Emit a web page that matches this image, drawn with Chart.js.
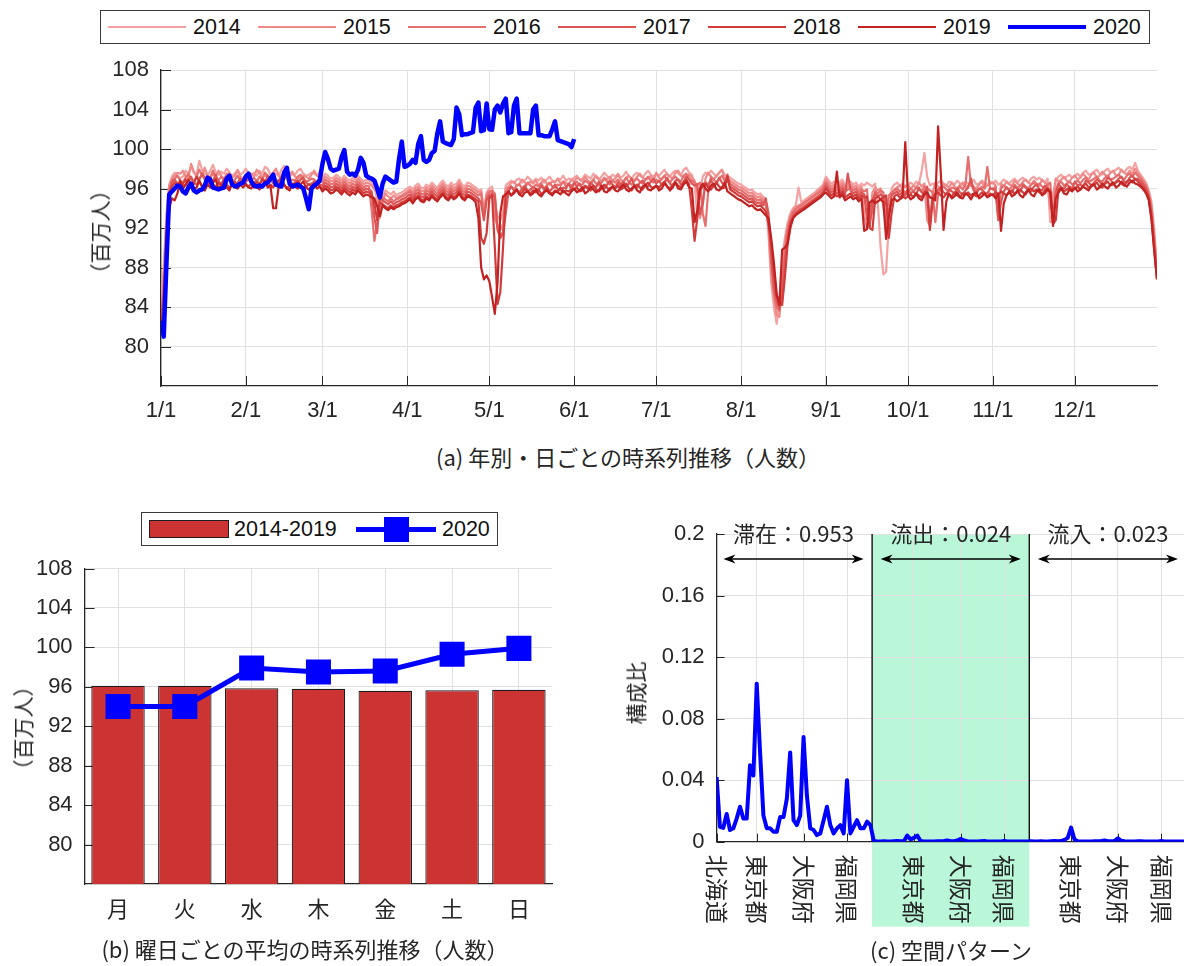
<!DOCTYPE html>
<html lang="ja">
<head>
<meta charset="utf-8">
<title>人数の時系列推移と空間パターン</title>
<script src="https://cdn.jsdelivr.net/npm/chart.js@4.4.1/dist/chart.umd.min.js"></script>
<style>
  html, body { margin: 0; padding: 0; background: #fff; }
  #fig { position: relative; width: 1184px; height: 966px; overflow: hidden; background: #fff; }
  #fig canvas { position: absolute; }
  .cap { position: absolute; white-space: nowrap; color: #262626; line-height: 30px; height: 30px;
         width: 600px; margin-left: -300px; text-align: center; font-size: 22px; }
  .cjk { font-family: "Noto Sans CJK JP", "Noto Sans", sans-serif; }
  .lat { font-family: "Liberation Sans", Arial, sans-serif; }
  .legend { position: absolute; border: 1px solid #3a3a3a; background: #fff; box-sizing: border-box; }
  .legend div { position: absolute; }
  .ytitle { position: absolute; white-space: nowrap; transform: translate(-50%, -50%) rotate(-90deg);
            font-size: 21px; line-height: 26px; color: #262626; }
</style>
</head>
<body>
<div id="fig">
  <canvas id="chartA" width="1184" height="440" style="left:0;top:0"></canvas>
  <canvas id="chartB" width="570" height="486" style="left:0;top:480px"></canvas>
  <canvas id="chartC" width="630" height="486" style="left:560px;top:480px"></canvas>
  <div id="legendA" class="legend" style="left:100px;top:10px;width:1050px;height:34px"></div>
  <div id="legendB" class="legend" style="left:141px;top:512px;width:357px;height:34px"></div>
  <div class="ytitle cjk" style="left:99px;top:232px">（百万人）</div>
  <div class="ytitle cjk" style="left:22px;top:728px">（百万人）</div>
  <div class="ytitle cjk" style="left:635px;top:693px">構成比</div>
  <div class="cap cjk" style="left:628px;top:441px">(a) 年別・日ごとの時系列推移（人数）</div>
  <div class="cap cjk" style="left:305px;top:933px">(b) 曜日ごとの平均の時系列推移（人数）</div>
  <div class="cap cjk" style="left:951px;top:934px">(c) 空間パターン</div>
</div>
<script>
// ===== (a) daily population, one array per year (百万人), Jan 1 .. Dec 31 =====
const monthStarts = [0, 31, 59, 90, 120, 151, 181, 212, 243, 273, 304, 334];
const monthLabels = ['1/1', '2/1', '3/1', '4/1', '5/1', '6/1', '7/1', '8/1', '9/1', '10/1', '11/1', '12/1'];
const popTicks = [80, 84, 88, 92, 96, 100, 104, 108];
const years = ['2014', '2015', '2016', '2017', '2018', '2019', '2020'];
const yearColors = ['#F4A3A3', '#EE8A8A', '#E66F6F', '#DC5656', '#D03C3C', '#C22222', '#0000FF'];

const pop2014 = [
  84.5, 88.0, 93.5, 96.4, 97.2, 97.6, 97.3, 97.0, 97.2, 97.8, 97.5, 98.2, 97.6, 97.4, 98.8, 97.9, 97.5, 97.3, 97.8, 98.4, 97.6, 97.4, 97.7, 97.5, 98.0, 97.6, 97.3, 97.5, 97.9, 97.4, 97.6,
  98.0, 97.5, 97.4, 97.6, 97.3, 97.8, 97.5, 98.2, 98.0, 97.4, 97.6, 97.5, 97.3, 97.9, 98.3, 97.6, 97.2, 97.5, 97.4, 97.8, 98.0, 97.5, 97.3, 97.4, 97.6, 97.5, 97.3, 97.7,
  97.2, 97.5, 97.3, 97.0, 97.1, 97.4, 97.2, 96.9, 97.3, 97.0, 96.8, 97.1, 96.9, 97.3, 97.0, 96.7, 96.9, 96.8, 96.6, 96.2, 94.8, 93.0, 95.2, 95.8, 95.6, 95.4, 95.7, 95.3, 95.5, 95.6, 95.8,
  96.0, 96.2, 95.9, 96.3, 96.5, 96.1, 96.0, 96.4, 96.2, 96.6, 96.3, 96.1, 96.5, 96.8, 96.4, 96.2, 96.6, 96.3, 96.5, 96.9, 96.4, 96.2, 96.6, 96.5, 96.3, 96.1, 95.8, 95.9, 93.8, 95.6,
  96.0, 96.2, 94.5, 93.2, 92.8, 93.6, 96.3, 96.6, 96.8, 96.5, 96.9, 97.0, 96.6, 96.8, 97.2, 96.9, 96.7, 97.0, 96.8, 97.1, 96.6, 96.9, 97.2, 96.8, 96.7, 97.0, 96.9, 97.3, 96.8, 97.0, 96.9,
  97.1, 97.3, 96.9, 97.0, 97.4, 97.2, 97.0, 97.5, 97.1, 96.9, 97.2, 97.6, 97.3, 97.0, 97.4, 97.2, 97.5, 97.1, 97.3, 97.7, 97.2, 97.0, 97.4, 97.6, 97.3, 97.1, 97.5, 97.8, 97.4, 97.2,
  97.5, 97.3, 97.6, 97.9, 97.4, 97.2, 97.6, 97.8, 97.5, 97.3, 97.9, 98.1, 97.6, 97.4, 96.5, 93.2, 95.8, 97.2, 97.6, 97.4, 97.8, 97.5, 97.2, 97.6, 97.9, 97.4, 97.3, 97.1, 96.9, 96.7, 96.5,
  96.4, 96.2, 96.0, 95.8, 95.9, 95.6, 95.4, 95.5, 95.2, 94.9, 91.5, 86.5, 84.0, 82.3, 84.5, 88.6, 91.0, 92.5, 93.5, 94.0, 94.3, 96.1, 94.6, 94.8, 95.0, 95.2, 95.4, 95.6, 95.9, 96.1, 96.4,
  97.2, 96.8, 96.5, 96.7, 96.4, 96.6, 96.9, 96.3, 96.5, 96.7, 96.4, 96.6, 96.2, 96.5, 96.3, 96.6, 96.4, 96.2, 96.5, 94.4, 90.0, 87.3, 87.6, 92.5, 96.0, 96.4, 96.6, 96.3, 96.5, 96.2,
  96.4, 96.6, 96.3, 96.7, 96.5, 97.8, 99.6, 97.2, 96.3, 96.5, 96.4, 96.6, 96.8, 96.5, 96.3, 96.7, 96.6, 96.4, 96.8, 96.5, 96.3, 96.7, 96.5, 96.6, 96.9, 96.4, 96.5, 96.8, 96.6, 96.4, 96.7,
  96.5, 96.8, 96.4, 96.6, 96.9, 96.7, 96.5, 96.8, 97.0, 96.6, 96.9, 97.1, 96.8, 96.6, 97.0, 97.2, 96.9, 97.1, 96.8, 96.6, 97.0, 92.6, 92.8, 96.9, 97.2, 97.4, 97.0, 97.2, 97.4, 97.1,
  97.3, 97.5, 97.2, 97.6, 97.8, 97.4, 97.5, 97.7, 97.9, 97.5, 97.4, 97.8, 98.0, 97.6, 97.7, 97.9, 98.1, 97.8, 97.6, 98.0, 98.2, 97.9, 98.6, 97.8, 97.4, 97.0, 96.6, 95.8, 94.6, 91.8, 88.0
];
const pop2015 = [
  83.5, 87.0, 93.0, 96.2, 97.0, 97.3, 97.6, 97.5, 97.8, 97.2, 97.0, 98.5, 97.7, 97.2, 97.0, 97.4, 98.1, 97.3, 97.1, 97.5, 97.2, 97.8, 97.3, 97.0, 97.2, 97.6, 97.1, 97.3, 97.8, 97.2, 97.0,
  97.4, 97.0, 97.5, 97.2, 97.9, 97.6, 97.1, 97.3, 97.2, 97.0, 97.6, 98.0, 97.3, 96.9, 97.2, 97.1, 97.5, 97.7, 97.2, 97.0, 97.1, 97.3, 97.2, 97.0, 97.4, 97.8, 97.3, 97.1,
  96.9, 97.2, 97.0, 96.7, 96.8, 97.1, 96.9, 96.6, 97.0, 96.7, 96.5, 96.8, 96.6, 97.0, 96.7, 96.4, 96.6, 96.5, 96.3, 95.9, 95.5, 93.4, 94.6, 95.5, 95.2, 95.0, 95.3, 95.0, 95.2, 95.3, 95.5,
  95.7, 95.9, 95.6, 96.0, 96.2, 95.8, 95.7, 96.1, 95.9, 96.3, 96.0, 95.8, 96.2, 96.5, 96.1, 95.9, 96.3, 96.0, 96.2, 96.6, 96.1, 95.9, 96.3, 96.2, 96.0, 95.8, 95.6, 95.7, 93.5, 95.4,
  95.8, 95.6, 93.0, 92.2, 91.8, 92.4, 96.0, 96.2, 96.6, 96.7, 96.3, 96.5, 96.9, 96.6, 96.4, 96.7, 96.5, 96.8, 96.3, 96.6, 96.9, 96.5, 96.4, 96.7, 96.6, 97.0, 96.5, 96.7, 96.6, 96.4, 96.9,
  96.7, 97.1, 96.9, 96.7, 97.2, 96.8, 96.6, 96.9, 97.3, 97.0, 96.7, 97.1, 96.9, 97.2, 96.8, 97.0, 97.4, 96.9, 96.7, 97.1, 97.3, 97.0, 96.8, 97.2, 97.5, 97.1, 96.9, 97.0, 97.3, 96.8,
  97.6, 97.1, 96.9, 97.3, 97.5, 97.2, 97.0, 97.6, 97.8, 97.3, 97.1, 97.2, 97.4, 97.1, 96.8, 95.6, 93.0, 94.3, 97.0, 97.6, 97.2, 96.9, 97.3, 97.6, 97.9, 97.1, 97.0, 96.8, 96.6, 96.4, 96.2,
  96.1, 95.9, 95.7, 95.5, 95.6, 95.3, 95.1, 95.2, 94.9, 94.6, 92.0, 87.5, 85.0, 83.2, 83.0, 87.0, 90.5, 92.2, 93.2, 93.8, 94.1, 94.3, 94.4, 94.6, 94.8, 95.0, 95.2, 95.4, 95.7, 95.9, 96.2,
  96.9, 96.5, 96.2, 96.4, 96.1, 96.3, 96.6, 96.0, 96.2, 96.4, 96.1, 96.3, 95.9, 96.2, 93.2, 92.0, 92.4, 95.6, 96.1, 95.8, 96.0, 94.2, 92.3, 93.0, 95.4, 95.9, 96.1, 96.3, 96.0, 96.2,
  96.4, 96.0, 96.3, 96.1, 96.6, 96.2, 96.5, 92.8, 92.2, 95.6, 96.6, 96.2, 96.0, 96.5, 96.3, 96.1, 96.6, 96.2, 96.0, 96.4, 96.6, 96.1, 96.3, 96.5, 96.2, 96.0, 96.4, 96.7, 96.1, 96.3, 96.5,
  96.6, 96.3, 93.5, 96.5, 96.2, 96.7, 96.4, 96.3, 96.8, 96.5, 96.3, 96.7, 96.9, 96.6, 96.4, 96.8, 96.5, 96.3, 96.9, 96.6, 96.4, 94.0, 95.2, 97.0, 96.7, 96.9, 97.2, 96.8, 96.7, 97.1,
  97.3, 96.9, 97.1, 97.5, 97.2, 96.9, 97.4, 97.6, 97.1, 97.3, 97.7, 97.4, 97.2, 97.6, 97.8, 97.3, 97.4, 97.9, 97.6, 97.4, 97.8, 97.5, 98.0, 97.5, 97.2, 96.8, 96.4, 95.6, 94.2, 91.2, 87.6
];
const pop2016 = [
  83.0, 86.0, 92.0, 95.8, 96.8, 97.0, 97.3, 96.8, 96.6, 97.1, 97.5, 96.9, 96.7, 97.2, 97.9, 97.4, 96.9, 96.7, 97.1, 97.8, 97.0, 96.8, 97.2, 96.9, 97.5, 97.0, 96.7, 96.9, 97.3, 96.8, 97.0,
  97.4, 96.9, 96.8, 97.1, 96.7, 97.2, 96.9, 97.6, 97.3, 96.8, 97.0, 96.9, 96.7, 97.3, 97.7, 97.0, 96.6, 96.9, 96.8, 97.2, 97.4, 96.9, 96.7, 96.8, 97.0, 96.9, 96.7, 97.1,
  96.6, 96.9, 96.7, 96.4, 96.5, 96.8, 96.6, 96.3, 96.7, 96.4, 96.2, 96.5, 96.3, 96.7, 96.4, 96.1, 96.3, 96.2, 93.8, 90.7, 92.6, 95.4, 95.0, 94.9, 94.7, 95.0, 94.7, 94.9, 95.0, 95.2, 95.3,
  95.5, 95.7, 95.3, 95.7, 95.9, 95.5, 95.4, 95.8, 95.6, 96.0, 95.7, 95.5, 95.9, 96.2, 95.8, 95.6, 96.0, 95.7, 95.9, 96.3, 95.8, 95.6, 96.0, 95.9, 95.7, 95.5, 95.3, 95.5, 93.0, 95.2,
  95.6, 95.8, 95.5, 92.0, 91.2, 91.6, 95.6, 96.0, 96.2, 95.9, 96.3, 96.4, 96.0, 96.2, 96.6, 96.3, 96.1, 96.4, 96.2, 96.5, 96.0, 96.3, 96.6, 96.2, 96.1, 96.4, 96.3, 96.7, 96.2, 96.4, 96.3,
  96.5, 96.7, 96.3, 96.4, 96.8, 96.6, 96.4, 96.9, 96.5, 96.3, 96.6, 97.0, 96.7, 96.4, 96.8, 96.6, 96.9, 96.5, 96.7, 97.1, 96.6, 96.4, 96.8, 97.0, 96.7, 96.5, 96.9, 97.2, 96.8, 96.6,
  96.9, 96.7, 97.0, 97.3, 96.8, 96.6, 97.0, 97.2, 96.9, 96.7, 97.3, 97.5, 97.0, 96.8, 96.6, 96.4, 96.6, 93.5, 92.2, 95.8, 97.2, 96.9, 96.6, 97.0, 97.3, 96.8, 96.7, 96.5, 96.3, 96.1, 95.9,
  95.8, 95.6, 95.4, 95.2, 95.3, 95.0, 94.8, 94.9, 94.6, 94.3, 92.8, 88.5, 85.5, 84.0, 83.6, 86.0, 89.5, 91.8, 93.0, 93.6, 93.9, 94.1, 94.3, 94.5, 94.7, 94.9, 95.1, 95.3, 95.5, 95.7, 96.0,
  96.6, 96.2, 95.9, 96.1, 95.8, 96.0, 96.3, 95.7, 95.9, 96.1, 95.8, 96.0, 95.6, 95.9, 95.7, 95.9, 92.6, 93.8, 95.7, 95.5, 95.8, 95.6, 92.4, 95.3, 95.6, 95.8, 96.0, 95.7, 95.9, 95.6,
  95.8, 96.0, 95.7, 96.1, 95.9, 95.7, 96.2, 96.0, 95.8, 95.6, 92.6, 95.4, 96.0, 96.2, 95.9, 95.7, 96.1, 96.0, 95.8, 96.2, 95.9, 96.4, 99.2, 96.3, 96.0, 95.8, 95.9, 96.2, 96.0, 98.2, 96.0,
  95.9, 96.2, 93.0, 96.0, 96.3, 96.1, 95.9, 96.2, 96.4, 96.0, 96.3, 96.5, 96.2, 96.0, 96.4, 96.6, 96.3, 96.5, 96.2, 96.0, 96.4, 96.6, 92.6, 95.8, 96.5, 96.7, 96.3, 96.5, 96.7, 96.4,
  96.6, 96.8, 96.5, 96.9, 97.1, 96.7, 96.8, 97.0, 97.2, 96.8, 96.7, 97.1, 97.3, 96.9, 97.0, 97.2, 97.4, 97.1, 96.9, 97.3, 97.5, 97.2, 97.6, 97.3, 97.0, 96.6, 96.2, 95.4, 93.8, 90.6, 87.2
];
const pop2017 = [
  82.8, 85.5, 91.5, 95.5, 96.6, 96.9, 96.5, 96.7, 96.4, 96.3, 96.8, 97.2, 96.6, 96.4, 96.9, 97.5, 97.1, 96.6, 96.4, 96.8, 97.4, 96.7, 96.5, 96.9, 96.6, 97.2, 96.7, 96.4, 96.6, 97.0, 96.5,
  96.7, 96.9, 96.6, 96.5, 96.8, 96.4, 96.9, 96.6, 97.3, 97.0, 96.5, 96.7, 96.8, 96.4, 97.0, 97.4, 96.7, 96.3, 96.6, 96.5, 96.9, 97.1, 96.6, 96.4, 96.5, 96.7, 96.6, 96.4,
  96.3, 96.6, 96.4, 96.1, 96.2, 96.5, 96.3, 96.0, 96.4, 96.1, 95.9, 96.2, 96.0, 96.4, 96.1, 95.8, 96.0, 95.9, 95.7, 93.0, 91.5, 95.0, 94.8, 94.6, 94.4, 94.7, 94.4, 94.6, 94.7, 94.9, 95.0,
  95.2, 95.4, 95.0, 95.4, 95.6, 95.2, 95.1, 95.5, 95.3, 95.7, 95.4, 95.2, 95.6, 95.9, 95.5, 95.3, 95.7, 95.4, 95.6, 96.0, 95.5, 95.3, 95.7, 95.6, 95.4, 95.2, 95.0, 94.5, 92.8, 94.8,
  95.3, 95.5, 95.2, 91.8, 91.0, 91.4, 93.5, 95.7, 96.2, 95.8, 95.9, 95.6, 96.0, 96.3, 95.7, 95.9, 96.1, 96.0, 95.8, 96.3, 95.9, 96.2, 95.7, 96.0, 96.4, 95.9, 95.8, 96.1, 96.0, 96.5, 95.9,
  96.6, 96.2, 96.5, 96.0, 96.3, 96.1, 96.6, 96.3, 96.1, 96.7, 96.2, 96.0, 96.4, 96.8, 96.4, 96.1, 96.6, 96.3, 96.7, 96.2, 96.5, 97.0, 96.3, 96.1, 96.6, 96.8, 96.4, 96.2, 96.7, 97.0,
  96.5, 96.8, 96.4, 96.6, 97.1, 96.5, 96.3, 96.8, 96.9, 96.4, 96.6, 97.2, 96.9, 96.5, 96.3, 96.4, 93.4, 94.5, 96.6, 96.4, 96.9, 96.2, 96.5, 97.1, 96.6, 96.4, 97.4, 96.2, 96.0, 95.8, 95.6,
  95.5, 95.3, 95.1, 94.9, 95.0, 94.7, 94.5, 94.6, 94.3, 95.0, 93.5, 89.5, 86.0, 84.6, 83.8, 85.0, 88.5, 91.2, 92.6, 93.3, 93.6, 93.8, 94.0, 94.2, 94.4, 94.6, 94.8, 95.0, 95.2, 95.4, 95.7,
  96.3, 95.9, 95.6, 95.8, 95.5, 95.7, 96.0, 95.4, 97.5, 95.8, 95.5, 95.7, 95.3, 95.6, 95.4, 93.0, 92.1, 94.8, 95.5, 95.2, 95.4, 95.2, 94.4, 93.4, 95.3, 95.5, 95.7, 95.4, 95.6, 95.3,
  95.9, 95.5, 95.7, 95.4, 96.1, 95.6, 95.4, 96.2, 92.4, 95.2, 95.5, 95.9, 96.1, 95.6, 95.4, 95.9, 95.7, 95.5, 96.0, 95.6, 95.4, 95.8, 96.1, 97.0, 95.8, 95.5, 96.0, 95.9, 95.6, 95.5, 96.0,
  96.0, 95.7, 92.8, 94.6, 95.7, 96.1, 95.8, 95.6, 96.2, 96.0, 95.7, 96.3, 96.1, 95.8, 95.7, 96.2, 96.4, 95.9, 95.8, 96.3, 96.0, 95.8, 93.2, 95.4, 96.5, 96.1, 96.0, 96.4, 96.2, 96.0,
  96.7, 96.3, 96.4, 96.2, 96.8, 96.6, 96.3, 96.6, 96.9, 96.7, 96.4, 96.6, 97.1, 96.9, 96.5, 96.7, 97.0, 97.2, 96.7, 96.6, 97.1, 97.3, 96.9, 97.0, 96.7, 96.4, 96.0, 95.2, 93.4, 90.2, 87.0
];
const pop2018 = [
  82.5, 84.5, 90.5, 94.8, 96.2, 96.6, 96.2, 96.0, 96.5, 96.9, 96.3, 96.1, 96.5, 97.2, 96.7, 96.2, 96.0, 96.4, 97.1, 96.4, 96.2, 96.6, 96.3, 96.9, 96.4, 96.1, 96.3, 96.7, 96.2, 96.4, 96.8,
  96.3, 96.2, 96.5, 96.1, 96.6, 96.3, 97.0, 96.7, 96.2, 96.4, 96.1, 96.6, 96.7, 97.1, 96.4, 96.0, 96.3, 96.2, 96.6, 96.8, 96.3, 96.1, 96.2, 96.4, 96.3, 96.1, 96.5, 96.2,
  96.0, 96.3, 96.1, 95.8, 95.9, 96.2, 96.0, 95.7, 96.1, 95.8, 95.6, 95.9, 95.7, 96.1, 95.8, 95.5, 95.7, 95.6, 95.4, 94.5, 92.8, 94.6, 94.4, 94.2, 94.0, 94.3, 94.1, 94.3, 94.4, 94.6, 94.7,
  94.9, 95.1, 94.7, 95.1, 95.3, 94.9, 94.8, 95.2, 95.0, 95.4, 95.1, 94.9, 95.3, 95.6, 95.2, 95.0, 95.4, 95.1, 95.3, 95.7, 95.2, 95.0, 95.4, 95.3, 95.1, 94.9, 94.7, 91.0, 90.4, 91.5,
  95.0, 95.3, 90.0, 84.3, 85.5, 90.0, 95.4, 95.6, 95.3, 95.7, 95.8, 95.4, 95.6, 96.0, 95.7, 95.5, 95.8, 95.6, 95.9, 95.4, 95.7, 96.0, 95.6, 95.5, 95.8, 95.7, 96.1, 95.6, 95.8, 95.7, 95.9,
  95.9, 96.1, 95.7, 95.8, 96.2, 96.0, 95.8, 96.3, 95.9, 95.7, 96.0, 96.4, 96.1, 95.8, 96.2, 96.0, 96.3, 95.9, 96.1, 96.5, 96.0, 95.8, 96.2, 96.4, 96.1, 95.9, 96.3, 96.6, 96.2, 96.0,
  96.3, 96.1, 96.4, 96.7, 96.2, 96.0, 96.4, 96.6, 96.3, 96.1, 96.7, 96.9, 96.4, 93.8, 90.7, 93.0, 95.8, 96.2, 96.5, 96.1, 95.9, 96.3, 96.6, 96.2, 96.0, 96.1, 97.2, 95.9, 95.7, 95.5, 95.3,
  95.2, 95.0, 94.8, 94.6, 94.7, 94.4, 94.2, 94.3, 94.0, 93.7, 92.5, 90.5, 87.5, 85.2, 84.5, 84.2, 87.0, 90.3, 92.0, 93.0, 93.4, 93.6, 93.8, 94.0, 94.2, 94.4, 94.6, 94.8, 95.0, 95.2, 95.5,
  96.0, 95.6, 95.3, 95.5, 95.2, 95.4, 95.7, 95.1, 95.3, 95.5, 95.2, 95.4, 95.0, 95.3, 95.1, 95.2, 92.0, 91.8, 95.0, 95.2, 94.9, 95.1, 95.3, 91.0, 93.5, 95.2, 95.4, 95.1, 95.3, 95.0,
  95.2, 95.4, 95.1, 95.5, 95.3, 95.1, 95.7, 95.5, 91.8, 94.8, 95.4, 95.6, 95.3, 95.1, 95.5, 95.4, 95.2, 95.6, 95.3, 95.1, 95.5, 95.4, 95.6, 95.3, 95.5, 95.2, 95.3, 95.6, 95.4, 95.2, 95.5,
  95.3, 95.6, 95.4, 95.7, 95.5, 95.3, 95.6, 95.8, 95.4, 95.7, 95.9, 95.6, 95.4, 95.8, 96.0, 95.7, 95.9, 95.6, 95.4, 95.8, 96.0, 95.7, 92.4, 92.8, 95.9, 96.1, 95.7, 95.9, 96.1, 95.8,
  96.0, 96.2, 95.9, 96.3, 96.5, 96.1, 96.2, 96.4, 96.6, 96.2, 96.1, 96.5, 96.7, 96.3, 96.4, 96.6, 96.8, 96.5, 96.3, 96.7, 96.9, 96.6, 97.0, 96.7, 96.4, 96.1, 95.7, 95.0, 93.0, 89.8, 86.8
];
const pop2019 = [
  82.2, 83.5, 89.0, 94.0, 95.0, 94.8, 95.5, 96.8, 96.0, 96.4, 96.9, 96.3, 95.9, 96.1, 96.8, 96.2, 95.8, 96.4, 96.1, 96.6, 96.9, 96.0, 96.3, 96.5, 96.1, 95.8, 96.6, 96.2, 96.0, 96.4, 96.1,
  96.5, 96.1, 96.0, 96.6, 96.2, 95.9, 96.3, 96.8, 96.1, 96.3, 94.0, 94.0, 96.2, 96.7, 96.4, 96.0, 95.8, 96.5, 96.2, 96.0, 96.4, 96.7, 96.1, 95.9, 96.2, 96.5, 96.0, 96.2,
  95.7, 96.0, 95.8, 95.5, 95.6, 95.9, 95.7, 95.4, 95.8, 95.5, 95.3, 95.6, 95.4, 95.8, 95.5, 95.2, 95.4, 95.3, 95.1, 95.0, 94.2, 93.2, 94.3, 94.0, 93.8, 94.1, 93.9, 94.1, 94.2, 94.4, 94.5,
  94.7, 94.9, 94.5, 94.9, 95.1, 94.7, 94.6, 95.0, 94.8, 95.2, 94.9, 94.7, 95.1, 95.4, 95.0, 94.8, 95.2, 94.9, 95.1, 95.5, 95.0, 94.8, 95.2, 95.1, 94.9, 94.6, 93.0, 88.0, 86.8, 87.2,
  86.6, 85.0, 83.3, 86.5, 93.5, 95.2, 95.4, 95.7, 95.3, 95.5, 95.9, 95.4, 95.2, 95.6, 95.7, 95.3, 95.5, 95.9, 95.4, 95.2, 95.6, 95.8, 95.5, 95.3, 95.7, 95.6, 95.4, 95.8, 95.5, 95.3, 95.7,
  96.0, 95.6, 95.8, 96.1, 95.5, 95.7, 96.2, 95.9, 95.6, 95.8, 96.3, 95.7, 95.6, 96.0, 96.2, 95.8, 95.7, 96.1, 96.4, 95.9, 95.7, 96.0, 96.3, 95.8, 95.6, 96.2, 96.4, 95.9, 95.8, 96.1,
  96.3, 95.8, 96.0, 96.5, 96.2, 95.8, 96.1, 96.6, 96.0, 95.9, 96.4, 96.7, 96.1, 96.0, 92.6, 93.8, 96.0, 96.5, 96.0, 95.7, 96.3, 96.5, 95.9, 95.8, 96.1, 96.6, 95.7, 95.5, 95.3, 95.1, 94.9,
  94.8, 94.6, 94.4, 94.2, 94.3, 94.0, 93.8, 93.9, 93.6, 93.3, 93.0, 91.0, 88.5, 85.3, 84.2, 89.8, 90.0, 90.4, 92.2, 93.0, 93.3, 93.5, 93.7, 93.9, 94.1, 94.3, 94.5, 94.7, 94.9, 95.1, 95.4,
  95.6, 95.3, 95.0, 95.2, 97.7, 95.1, 95.4, 94.8, 95.0, 95.2, 94.9, 95.1, 94.7, 95.0, 91.7, 91.9, 94.6, 94.8, 94.5, 94.7, 94.9, 94.6, 90.9, 93.2, 94.8, 95.0, 94.7, 94.9, 95.1, 100.7,
  95.3, 94.9, 95.1, 95.5, 95.0, 94.8, 95.4, 95.6, 95.1, 95.0, 94.8, 102.3, 97.5, 91.8, 94.7, 95.5, 95.0, 95.2, 95.6, 95.1, 95.0, 95.5, 95.3, 94.9, 95.4, 95.6, 95.0, 95.2, 95.5, 95.1, 95.3,
  95.4, 95.0, 95.5, 91.7, 94.5, 95.3, 95.7, 95.2, 95.4, 95.8, 95.3, 95.1, 95.6, 95.9, 95.4, 95.2, 95.7, 95.9, 95.3, 95.5, 95.9, 95.6, 92.2, 95.0, 95.6, 96.0, 95.5, 95.4, 95.9, 95.7,
  96.1, 95.7, 95.9, 96.2, 96.0, 95.8, 96.3, 96.4, 95.9, 96.1, 96.5, 96.2, 96.0, 96.4, 96.6, 96.1, 96.3, 96.7, 96.4, 96.2, 96.6, 96.8, 96.5, 96.4, 96.2, 95.9, 95.5, 94.8, 92.8, 89.6, 86.8
];
// 2020: Jan 1 .. May 31
const pop2020 = [
  82.6, 81.0, 88.5, 95.4, 95.7, 96.0, 96.3, 96.2, 95.7, 95.5,
  96.1, 96.5, 95.8, 95.6, 95.8, 95.9, 96.3, 97.1, 96.9, 96.1,
  96.0, 95.9, 96.0, 96.1, 97.0, 97.3, 96.4, 96.2, 96.3, 96.5,
  96.6, 97.2, 97.5, 96.7, 96.3, 96.2, 96.3, 96.2, 96.5, 96.6,
  97.0, 97.4, 96.4, 96.3, 96.2, 97.6, 98.1, 96.5, 96.2, 96.3,
  96.4, 96.2, 96.0, 95.0, 93.9, 96.0, 96.3, 96.5, 96.8, 98.5,
  99.7, 99.0, 98.0, 97.8, 97.9, 98.0, 99.2, 99.9, 97.7, 97.4,
  97.5, 97.3, 97.9, 99.1, 98.6, 97.3, 97.1, 97.0, 96.8, 96.0,
  95.1, 96.5, 97.2, 97.0, 96.8, 96.6, 96.7, 99.0, 100.75, 98.2,
  98.3, 98.5, 98.9, 98.6, 100.5, 101.3, 98.9, 98.7, 98.9, 99.6,
  99.8, 101.6, 102.8, 100.75, 100.6, 100.5, 100.4, 101.0, 104.2, 103.5,
  101.4, 101.5, 101.5, 101.6, 101.7, 104.2, 104.7, 101.8, 101.9, 104.6,
  102.0, 101.95, 104.0, 104.4, 103.7, 104.6, 105.1, 101.6, 101.7, 104.4,
  105.1, 101.6, 101.6, 101.6, 101.6, 101.6, 104.0, 104.4, 101.4, 101.4,
  101.3, 101.3, 101.3, 102.0, 102.8, 100.9, 100.8, 100.7, 100.6, 100.5,
  100.2, 101.0
];
const popSeries = [pop2014, pop2015, pop2016, pop2017, pop2018, pop2019, pop2020];

// ===== (b) mean by day of week =====
const weekdays = ['月', '火', '水', '木', '金', '土', '日'];
const weekdayMean1419 = [96.1, 96.1, 95.85, 95.8, 95.6, 95.65, 95.7];
const weekdayMean2020 = [94.0, 94.0, 97.9, 97.5, 97.6, 99.3, 99.9];

// ===== (c) composition ratio by prefecture: stay / outflow / inflow =====
const prefectures = ['北海道', '青森県', '岩手県', '宮城県', '秋田県', '山形県', '福島県', '茨城県', '栃木県', '群馬県',
  '埼玉県', '千葉県', '東京都', '神奈川県', '新潟県', '富山県', '石川県', '福井県', '山梨県', '長野県',
  '岐阜県', '静岡県', '愛知県', '三重県', '滋賀県', '京都府', '大阪府', '兵庫県', '奈良県', '和歌山県',
  '鳥取県', '島根県', '岡山県', '広島県', '山口県', '徳島県', '香川県', '愛媛県', '高知県', '福岡県',
  '佐賀県', '長崎県', '熊本県', '大分県', '宮崎県', '鹿児島県', '沖縄県'];
const stayRatio = [0.042, 0.0097, 0.009, 0.018, 0.0076, 0.0087, 0.015, 0.0227, 0.015, 0.015,
  0.0497, 0.043, 0.1027, 0.058, 0.017, 0.0087, 0.0087, 0.0065, 0.0065, 0.016,
  0.016, 0.028, 0.058, 0.014, 0.0108, 0.017, 0.068, 0.03, 0.0087, 0.0076,
  0.0043, 0.0054, 0.014, 0.0227, 0.0108, 0.0054, 0.0087, 0.0108, 0.0054, 0.040,
  0.0054, 0.0097, 0.014, 0.0087, 0.0087, 0.013, 0.0108];
const outflowRatio = [0.0004, 0.0002, 0.0002, 0.0003, 0.0002, 0.0002, 0.0003, 0.0004, 0.0003, 0.0003,
  0.004, 0.0015, 0.0025, 0.004, 0.0004, 0.0002, 0.0002, 0.0002, 0.0002, 0.0003,
  0.0003, 0.0004, 0.0008, 0.0003, 0.0003, 0.0008, 0.0018, 0.0008, 0.0003, 0.0002,
  0.0002, 0.0002, 0.0003, 0.0004, 0.0002, 0.0002, 0.0002, 0.0002, 0.0002, 0.0005,
  0.0002, 0.0002, 0.0002, 0.0002, 0.0002, 0.0002, 0.0002];
const inflowRatio = [0.0003, 0.0002, 0.0002, 0.0003, 0.0002, 0.0002, 0.0003, 0.0004, 0.0003, 0.0004,
  0.0012, 0.0025, 0.0092, 0.0015, 0.0003, 0.0002, 0.0002, 0.0002, 0.0002, 0.0003,
  0.0003, 0.0004, 0.0008, 0.0003, 0.0003, 0.0005, 0.0022, 0.0006, 0.0003, 0.0002,
  0.0002, 0.0002, 0.0003, 0.0003, 0.0002, 0.0002, 0.0002, 0.0002, 0.0002, 0.0004,
  0.0002, 0.0002, 0.0002, 0.0002, 0.0002, 0.0002, 0.0002];
const segments = [
  { name: '滞在', total: 0.953, values: stayRatio, shaded: false, tickPrefs: ['北海道', '東京都', '大阪府', '福岡県'] },
  { name: '流出', total: 0.024, values: outflowRatio, shaded: true, tickPrefs: ['東京都', '大阪府', '福岡県'] },
  { name: '流入', total: 0.023, values: inflowRatio, shaded: false, tickPrefs: ['東京都', '大阪府', '福岡県'] }
];
const ratioTicks = [0, 0.04, 0.08, 0.12, 0.16, 0.2];

// sanity checks on the tables
popSeries.slice(0, 6).forEach((a, k) => { if (a.length !== 365) throw new Error(years[k] + ' has ' + a.length + ' days'); });
if (pop2020.length !== 152) throw new Error('2020 has ' + pop2020.length + ' days');
segments.forEach(s => { if (s.values.length !== prefectures.length) throw new Error(s.name + ' has ' + s.values.length); });

// ===== shared styling =====
const axisColor = '#262626';
const gridColor = '#e1e1e1';
const latinFont = '"Liberation Sans", Arial, sans-serif';
const cjkFont = '"Noto Sans CJK JP", "Noto Sans", sans-serif';
const tickFont = { family: latinFont, size: 22 };

// short tick marks pointing into the plot, drawn beneath the data
const insideTicks = {
  id: 'insideTicks',
  beforeDatasetsDraw(chart, args, o) {
    const { ctx, chartArea: a } = chart;
    ctx.save();
    ctx.strokeStyle = axisColor;
    ctx.lineWidth = 1;
    if (o.y) chart.scales.y.ticks.forEach(t => {
      const p = Math.round(chart.scales.y.getPixelForValue(t.value)) + 0.5;
      ctx.beginPath(); ctx.moveTo(a.left, p); ctx.lineTo(a.left + o.len, p); ctx.stroke();
    });
    if (o.x) chart.scales.x.ticks.forEach(t => {
      const p = Math.round(chart.scales.x.getPixelForValue(t.value)) + 0.5;
      ctx.beginPath(); ctx.moveTo(p, a.bottom); ctx.lineTo(p, a.bottom - o.len); ctx.stroke();
    });
    ctx.restore();
  }
};

const fixedTicks = list => scale => { scale.ticks = list.map(v => ({ value: v })); };
const baseOptions = {
  responsive: false,
  animation: false,
  events: [],
  plugins: { legend: { display: false }, tooltip: { enabled: false } }
};

// ===== chart (a) =====
new Chart(document.getElementById('chartA'), {
  type: 'line',
  data: {
    datasets: years.map((yr, i) => ({
      label: yr,
      data: popSeries[i].map((v, d) => ({ x: d, y: v })),
      borderColor: yearColors[i],
      borderWidth: yr === '2020' ? 4.5 : 2.2,
      pointRadius: 0,
      tension: 0,
      borderJoinStyle: 'round',
      order: years.length - i
    }))
  },
  options: {
    ...baseOptions,
    layout: { padding: { top: 70, right: 27, left: 0, bottom: 0 } },
    plugins: { ...baseOptions.plugins, insideTicks: { len: 10, x: true, y: true } },
    scales: {
      x: {
        type: 'linear', min: 0, max: 364,
        afterBuildTicks: fixedTicks(monthStarts),
        afterFit: s => { s.height = 54; },
        grid: { color: gridColor, drawTicks: false },
        border: { color: axisColor, width: 1.3 },
        ticks: { padding: 12, color: axisColor, font: tickFont, autoSkip: false, maxRotation: 0,
                 callback: v => monthLabels[monthStarts.indexOf(v)] }
      },
      y: {
        min: 76, max: 108,
        afterBuildTicks: fixedTicks(popTicks),
        afterFit: s => { s.width = 161; },
        grid: { color: gridColor, drawTicks: false },
        border: { color: axisColor, width: 1.3 },
        ticks: { padding: 12, color: axisColor, font: tickFont, callback: v => String(v) }
      }
    }
  },
  plugins: [insideTicks]
});

// ===== chart (b) =====
new Chart(document.getElementById('chartB'), {
  type: 'bar',
  data: {
    labels: weekdays,
    datasets: [
      { type: 'line', label: '2020', data: weekdayMean2020, borderColor: '#0000FF', backgroundColor: '#0000FF',
        borderWidth: 5, pointStyle: 'rect', pointRadius: 17.7, pointBorderWidth: 0, tension: 0, order: 0 },
      { type: 'bar', label: '2014-2019', data: weekdayMean1419, backgroundColor: '#CC3333',
        borderColor: '#1e1e1e', borderWidth: 1.2, barPercentage: 0.8, categoryPercentage: 1, order: 1 }
    ]
  },
  options: {
    ...baseOptions,
    layout: { padding: { top: 88.5, right: 16.4, left: 0, bottom: 0 } },
    plugins: { ...baseOptions.plugins, insideTicks: { len: 10, x: false, y: true } },
    scales: {
      x: {
        offset: true,
        afterFit: s => { s.height = 82; },
        grid: { color: gridColor, drawTicks: false, offset: false },
        border: { color: axisColor, width: 1.3 },
        ticks: { padding: 11, color: axisColor, font: { family: cjkFont, size: 22 } }
      },
      y: {
        min: 76, max: 108,
        afterBuildTicks: fixedTicks(popTicks),
        afterFit: s => { s.width = 84.6; },
        grid: { color: gridColor, drawTicks: false },
        border: { color: axisColor, width: 1.3 },
        ticks: { padding: 12, color: axisColor, font: tickFont, callback: v => String(v) }
      }
    }
  },
  plugins: [insideTicks]
});

// ===== chart (c) =====
const nPref = prefectures.length;
const ratioSeries = segments.flatMap(s => s.values);
const prefTicks = segments.flatMap((s, k) => s.tickPrefs.map(p => ({ index: k * nPref + prefectures.indexOf(p), name: p })));

const segmentDecor = {
  id: 'segmentDecor',
  beforeDraw(chart) {
    const { ctx, chartArea: a, scales: { x, y } } = chart;
    const top = y.getPixelForValue(ratioTicks[ratioTicks.length - 1]);
    ctx.save();
    ctx.fillStyle = '#B9F7D8';
    segments.forEach((s, k) => {
      if (!s.shaded) return;
      const x0 = x.getPixelForValue(k * nPref - 0.5), x1 = x.getPixelForValue((k + 1) * nPref - 0.5);
      ctx.fillRect(x0, top, x1 - x0, a.bottom + 85 - top);
    });
    ctx.restore();
  },
  beforeDatasetsDraw(chart) {
    const { ctx, scales: { x, y } } = chart;
    const top = y.getPixelForValue(ratioTicks[ratioTicks.length - 1]), bottom = y.getPixelForValue(0);
    ctx.save();
    ctx.strokeStyle = '#111';
    ctx.lineWidth = 1.4;
    segments.forEach((s, k) => {
      if (!s.shaded) return;
      [k * nPref - 0.5, (k + 1) * nPref - 0.5].forEach(v => {
        const p = x.getPixelForValue(v);
        ctx.beginPath(); ctx.moveTo(p, top); ctx.lineTo(p, bottom); ctx.stroke();
      });
    });
    ctx.restore();
  },
  afterDraw(chart) {
    const { ctx, chartArea: a, scales: { x, y } } = chart;
    const top = y.getPixelForValue(ratioTicks[ratioTicks.length - 1]);
    ctx.save();
    // prefecture names, written downward
    ctx.fillStyle = axisColor;
    ctx.font = '23px ' + cjkFont;
    ctx.textAlign = 'left';
    ctx.textBaseline = 'middle';
    prefTicks.forEach(t => {
      ctx.save();
      ctx.translate(x.getPixelForValue(t.index), a.bottom + 13);
      ctx.rotate(Math.PI / 2);
      ctx.fillText(t.name, 0, 0);
      ctx.restore();
    });
    // segment titles with their shares, and double-headed span arrows
    ctx.font = '22px ' + cjkFont;
    ctx.textAlign = 'center';
    const ay = top + 25, head = 12, half = 4.5;
    segments.forEach((s, k) => {
      const x0 = x.getPixelForValue(k * nPref - 0.5), x1 = x.getPixelForValue((k + 1) * nPref - 0.5);
      ctx.fillStyle = axisColor;
      ctx.fillText(s.name + '：' + s.total.toFixed(3), (x0 + x1) / 2, top);
      const l = x0 + 8.5, r = x1 - 8.5;
      ctx.strokeStyle = '#000';
      ctx.fillStyle = '#000';
      ctx.lineWidth = 1.5;
      ctx.beginPath(); ctx.moveTo(l + 4, ay); ctx.lineTo(r - 4, ay); ctx.stroke();
      ctx.beginPath(); ctx.moveTo(l, ay); ctx.lineTo(l + head, ay - half); ctx.lineTo(l + head * 0.7, ay); ctx.lineTo(l + head, ay + half); ctx.closePath(); ctx.fill();
      ctx.beginPath(); ctx.moveTo(r, ay); ctx.lineTo(r - head, ay - half); ctx.lineTo(r - head * 0.7, ay); ctx.lineTo(r - head, ay + half); ctx.closePath(); ctx.fill();
    });
    ctx.restore();
  }
};

new Chart(document.getElementById('chartC'), {
  type: 'line',
  data: {
    datasets: [{
      label: '構成比',
      data: ratioSeries.map((v, i) => ({ x: i, y: v })),
      borderColor: '#0000FF',
      borderWidth: 4,
      pointRadius: 0,
      tension: 0,
      borderJoinStyle: 'round'
    }]
  },
  options: {
    ...baseOptions,
    layout: { padding: { top: 54, right: 5.2, left: 0, bottom: 0 } },
    plugins: { ...baseOptions.plugins, insideTicks: { len: 8, x: true, y: true } },
    scales: {
      x: {
        type: 'linear', min: 0, max: ratioSeries.length - 1,
        afterBuildTicks: fixedTicks(prefTicks.map(t => t.index)),
        afterFit: s => { s.height = 124.3; },
        grid: { color: gridColor, drawTicks: false },
        border: { color: axisColor, width: 1.3 },
        ticks: { display: false }
      },
      y: {
        min: 0, max: 0.2,
        afterBuildTicks: fixedTicks(ratioTicks),
        afterFit: s => { s.width = 156.6; },
        grid: { color: gridColor, drawTicks: false },
        border: { color: axisColor, width: 1.3 },
        ticks: { padding: 12, color: axisColor, font: tickFont, callback: v => String(+v.toFixed(2)) }
      }
    }
  },
  plugins: [insideTicks, segmentDecor]
});

// ===== legends =====
const legA = document.getElementById('legendA');
years.forEach((yr, i) => {
  const lw = yr === '2020' ? 4.5 : 2.5;
  const sw = document.createElement('div');
  sw.style.cssText = `left:${7 + 150 * i}px;top:${16 - lw / 2}px;width:78px;height:${lw}px;background:${yearColors[i]}`;
  const tx = document.createElement('div');
  tx.className = 'lat';
  tx.style.cssText = `left:${92 + 150 * i}px;top:5px;font-size:21.5px;line-height:22px;color:#111`;
  tx.textContent = yr;
  legA.append(sw, tx);
});

const legB = document.getElementById('legendB');
legB.innerHTML =
  `<div style="left:7px;top:7px;width:80px;height:18px;background:#CC3333;border:1px solid #1e1e1e;box-sizing:border-box"></div>` +
  `<div class="lat" style="left:92px;top:5px;font-size:21.5px;line-height:22px;color:#111">2014-2019</div>` +
  `<div style="left:214px;top:13.5px;width:80px;height:5px;background:#0000FF"></div>` +
  `<div style="left:241.5px;top:3.5px;width:25px;height:25px;background:#0000FF"></div>` +
  `<div class="lat" style="left:300px;top:5px;font-size:21.5px;line-height:22px;color:#111">2020</div>`;
</script>
</body>
</html>
